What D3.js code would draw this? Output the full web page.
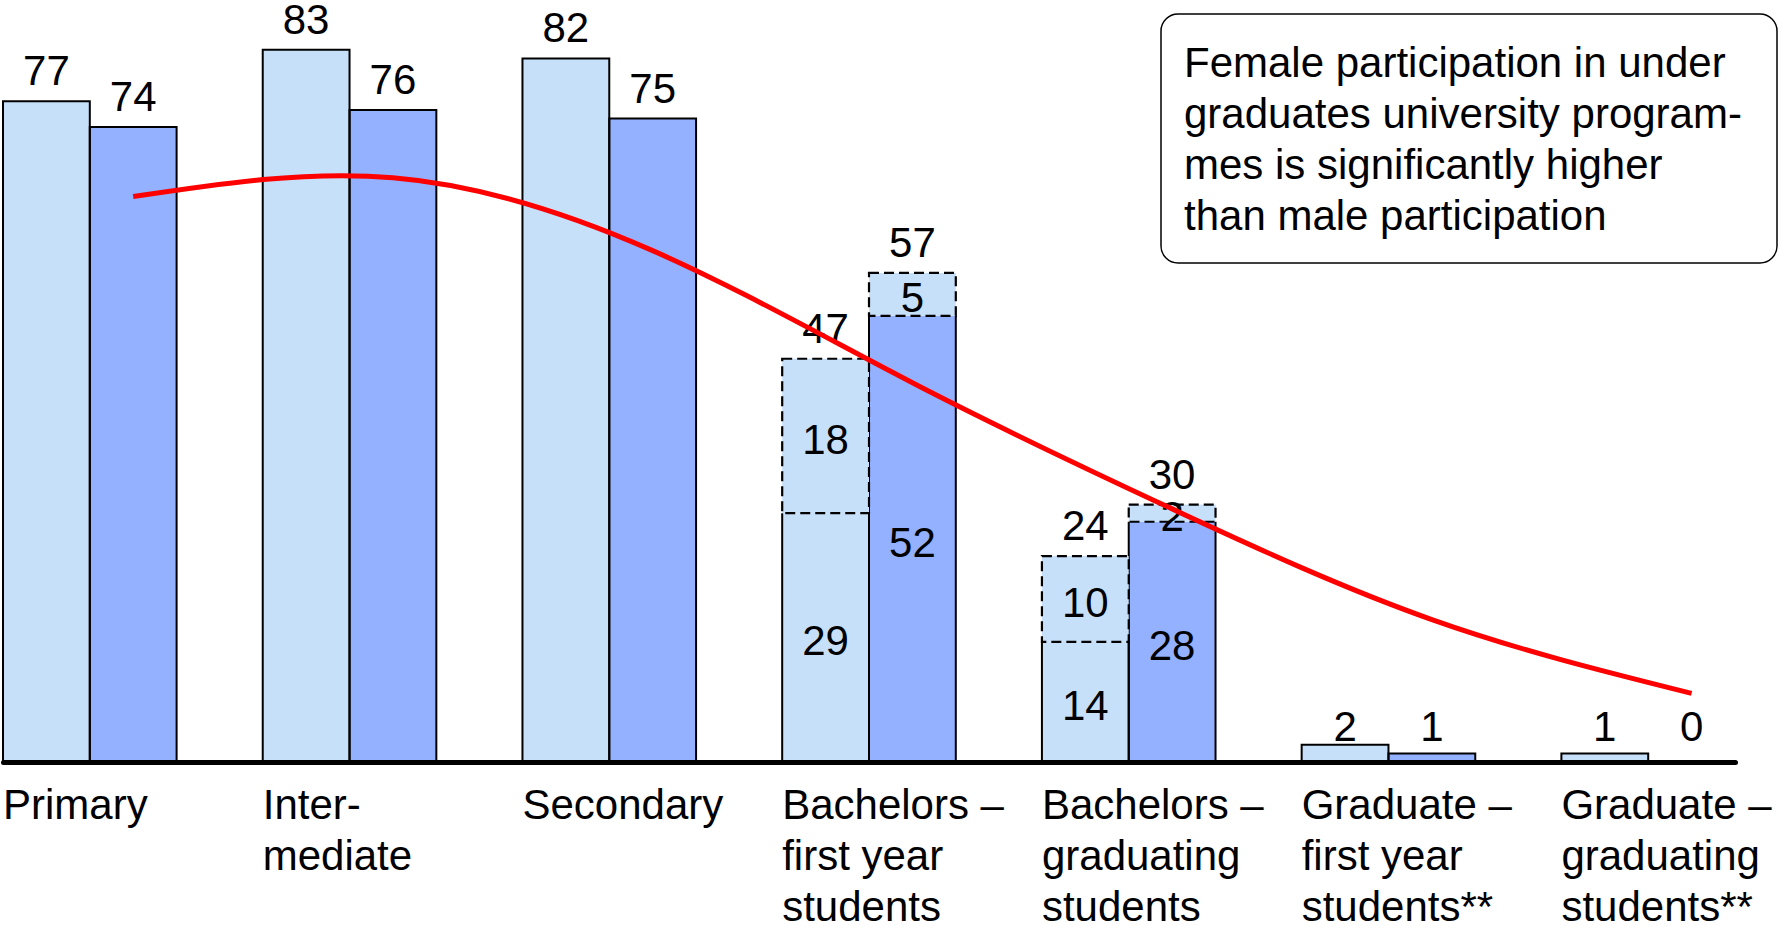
<!DOCTYPE html>
<html>
<head>
<meta charset="utf-8">
<script src="https://cdn.jsdelivr.net/npm/d3@7"></script>
<style>
  html, body { margin: 0; padding: 0; background: #fff; }
  svg { display: block; font-family: "Liberation Sans", Arial, sans-serif; }
</style>
</head>
<body>
<svg id="chart" width="1780" height="926"></svg>
<script>
// Education levels (multi-line tick labels)
const categories = [
  "Primary",
  "Inter-\nmediate",
  "Secondary",
  "Bachelors –\nfirst year\nstudents",
  "Bachelors –\ngraduating\nstudents",
  "Graduate –\nfirst year\nstudents**",
  "Graduate –\ngraduating\nstudents**"
];

// Light series: base share and the extra (dashed) share stacked on top
const lightBase  = [77, 83, 82, 29, 14, 2, 1];
const lightExtra = [0, 0, 0, 18, 10, 0, 0];
// Dark series: base share and the extra (dashed) share stacked on top
const darkBase   = [74, 76, 75, 52, 28, 1, 0];
const darkExtra  = [0, 0, 0, 5, 2, 0, 0];

// Smoothed trend drawn through the dark-bar centres
const trendValues = [65.9, 68.1, 59.6, 44.2, 29.5, 16.6, 8.0];

const noteLines = [
  "Female participation in under",
  "graduates university program-",
  "mes is significantly higher",
  "than male participation"
];

const COLORS = { light: "#c7e0fa", dark: "#93b1fe", trend: "#ff0000" };
const FONT = 42;

const svg = d3.select("#chart");

const x = d3.scaleBand()
  .domain(categories)
  .range([3, 1735])
  .paddingInner(0.3316)
  .paddingOuter(0);

const sub = d3.scaleBand()
  .domain(["light", "dark"])
  .range([0, x.bandwidth()]);

const y = d3.scaleLinear().domain([0, 100]).range([762, -96]);

// Build bar records
const bars = [];
categories.forEach((c, i) => {
  bars.push({ cat: c, key: "light", base: lightBase[i], extra: lightExtra[i] });
  bars.push({ cat: c, key: "dark", base: darkBase[i], extra: darkExtra[i] });
});

const g = svg.append("g");

// Base segments (fill)
g.selectAll("rect.base")
  .data(bars.filter(d => d.base > 0))
  .join("rect")
  .attr("class", "base")
  .attr("x", d => x(d.cat) + sub(d.key))
  .attr("y", d => y(d.base))
  .attr("width", sub.bandwidth())
  .attr("height", d => y(0) - y(d.base))
  .attr("fill", d => COLORS[d.key]);

// Base segment outlines: top edge left open where a dashed segment sits above
g.selectAll("path.baseEdge")
  .data(bars.filter(d => d.base > 0))
  .join("path")
  .attr("class", "baseEdge")
  .attr("fill", "none")
  .attr("stroke", "#000")
  .attr("stroke-width", 2)
  .attr("d", d => {
    const x0 = x(d.cat) + sub(d.key), x1 = x0 + sub.bandwidth();
    const yb = y(0), yt = y(d.base);
    return d.extra > 0
      ? `M${x0},${yb}V${yt}M${x1},${yb}V${yt}`
      : `M${x0},${yb}V${yt}H${x1}V${yb}`;
  });

// Extra (dashed) segments
g.selectAll("rect.extra")
  .data(bars.filter(d => d.extra > 0))
  .join("rect")
  .attr("class", "extra")
  .attr("x", d => x(d.cat) + sub(d.key))
  .attr("y", d => y(d.base + d.extra))
  .attr("width", sub.bandwidth())
  .attr("height", d => y(d.base) - y(d.base + d.extra))
  .attr("fill", COLORS.light)
  .attr("stroke", "#000")
  .attr("stroke-width", 2.2)
  .attr("stroke-dasharray", "10,5");

// Value labels above bars (total); tiny bars share a common label line
const LABEL_FLOOR = y(0) - 21;
const LABEL_GAP = 16;
g.selectAll("text.total")
  .data(bars)
  .join("text")
  .attr("class", "total")
  .attr("x", d => x(d.cat) + sub(d.key) + sub.bandwidth() / 2)
  .attr("y", d => {
    const ly = y(d.base + d.extra) - LABEL_GAP;
    return ly > LABEL_FLOOR - 20 ? LABEL_FLOOR : ly;
  })
  .attr("text-anchor", "middle")
  .attr("font-size", FONT)
  .attr("fill", "#000")
  .text(d => d.base + d.extra);

// Labels inside stacked segments
const inner = [];
bars.filter(d => d.extra > 0).forEach(d => {
  inner.push({ d, v: d.base, mid: d.base / 2 });
  inner.push({ d, v: d.extra, mid: d.base + d.extra / 2 });
});
g.selectAll("text.inner")
  .data(inner)
  .join("text")
  .attr("class", "inner")
  .attr("x", e => x(e.d.cat) + sub(e.d.key) + sub.bandwidth() / 2)
  .attr("y", e => y(e.mid))
  .attr("dy", "0.42em")
  .attr("text-anchor", "middle")
  .attr("font-size", FONT)
  .attr("fill", "#000")
  .text(e => e.v);

// Trend curve
const line = d3.line()
  .x((v, i) => x(categories[i]) + sub("dark") + sub.bandwidth() / 2)
  .y(v => y(v))
  .curve(d3.curveNatural);
g.append("path")
  .datum(trendValues)
  .attr("fill", "none")
  .attr("stroke", COLORS.trend)
  .attr("stroke-width", 5)
  .attr("d", line);

// Category axis
const axis = g.append("g")
  .attr("transform", `translate(0,${y(0)})`)
  .call(d3.axisBottom(x).tickSize(0).tickSizeOuter(0).tickFormat(""));
axis.select(".domain")
  .attr("stroke", "#000")
  .attr("stroke-width", 5)
  .attr("stroke-linecap", "round");

const ticks = g.selectAll("text.cat")
  .data(categories)
  .join("text")
  .attr("class", "cat")
  .attr("x", d => x(d))
  .attr("y", 819)
  .attr("font-size", FONT)
  .attr("fill", "#000");
ticks.selectAll("tspan")
  .data(d => d.split("\n"))
  .join("tspan")
  .attr("x", function () { return this.parentNode.getAttribute("x"); })
  .attr("dy", (s, i) => i === 0 ? 0 : 51)
  .text(s => s);

// Note box
const note = svg.append("g");
note.append("rect")
  .attr("x", 1161).attr("y", 14)
  .attr("width", 616).attr("height", 249)
  .attr("rx", 17).attr("ry", 17)
  .attr("fill", "#fff")
  .attr("stroke", "#000")
  .attr("stroke-width", 1.5);
note.selectAll("text")
  .data(noteLines)
  .join("text")
  .attr("x", 1184)
  .attr("y", (s, i) => 77 + i * 51)
  .attr("font-size", FONT)
  .attr("fill", "#000")
  .text(s => s);
</script>
</body>
</html>
